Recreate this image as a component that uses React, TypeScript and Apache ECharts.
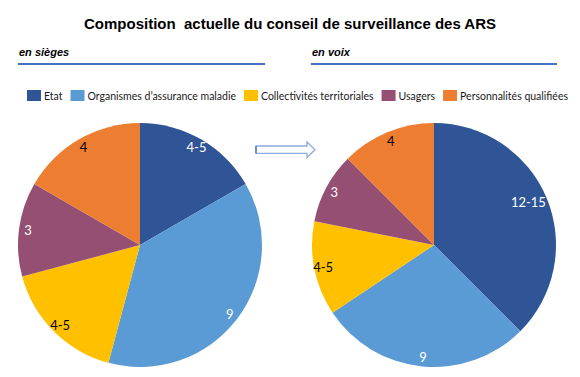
import React, { useEffect, useRef } from 'react';
import * as echarts from 'echarts';

const categories = [
  'Etat',
  'Organismes d’assurance maladie',
  'Collectivités territoriales',
  'Usagers',
  'Personnalités qualifiées',
];
const seatValues = [4, 9, 4, 3, 4];
const seatLabels = ['4-5', '9', '4-5', '3', '4'];
const voteValues = [12, 9, 4, 3, 4];
const voteLabels = ['12-15', '9', '4-5', '3', '4'];
const titleText = 'Composition  actuelle du conseil de surveillance des ARS';
const leftSubtitle = 'en sièges';
const rightSubtitle = 'en voix';

const colors = ['#2F5597', '#5B9BD5', '#FFC000', '#954F72', '#ED7D31'];
const labelColors = ['#ffffff', '#ffffff', '#000000', '#ffffff', '#000000'];

function fillSeries(values: number[], center: number[]) {
  return {
    type: 'pie',
    center,
    radius: [0, 122],
    startAngle: 90,
    clockwise: true,
    silent: true,
    label: { show: false },
    labelLine: { show: false },
    emphasis: { disabled: true },
    data: values.map((v, i) => ({
      name: categories[i],
      value: v,
      itemStyle: { color: colors[i] },
    })),
  };
}

function labelSeries(
  values: number[],
  labels: string[],
  center: number[],
  paddings: number[][]
) {
  return {
    type: 'pie',
    center,
    radius: [98, 122],
    startAngle: 90,
    clockwise: true,
    silent: true,
    z: 5,
    labelLine: { show: false },
    emphasis: { disabled: true },
    data: values.map((v, i) => ({
      name: categories[i],
      value: v,
      itemStyle: { color: 'rgba(0,0,0,0)' },
      label: {
        show: true,
        position: 'inside',
        formatter: labels[i],
        color: labelColors[i],
        fontFamily: 'Lato',
        fontSize: 13,
        overflow: 'none',
        padding: paddings[i],
      },
    })),
  };
}

const noPad = [0, 0, 0, 0];

export default function App() {
  const ref = useRef<HTMLDivElement>(null);
  useEffect(() => {
    if (!ref.current) return;
    const chart = echarts.init(ref.current, undefined, { renderer: 'svg' });
    chart.setOption({
      animation: false,
      backgroundColor: '#ffffff',
      title: {
        text: titleText,
        left: 'center',
        top: 11,
        textStyle: {
          fontFamily: 'Liberation Sans',
          fontWeight: 'bold',
          fontSize: 15,
          color: '#000000',
        },
      },
      legend: {
        data: categories,
        left: 22,
        top: 85,
        itemWidth: 14,
        itemHeight: 11,
        itemGap: 8,
        icon: 'rect',
        textStyle: {
          fontFamily: 'Lato',
          fontSize: 10.5,
          color: '#1a1a1a',
          padding: [0, 0, 0, -2],
        },
        selectedMode: false,
      },
      graphic: [
        {
          type: 'text',
          left: 19,
          top: 46,
          style: {
            text: leftSubtitle,
            font: 'italic bold 11px "Liberation Sans"',
            fill: '#000',
          },
        },
        {
          type: 'text',
          left: 312,
          top: 46,
          style: {
            text: rightSubtitle,
            font: 'italic bold 11px "Liberation Sans"',
            fill: '#000',
          },
        },
        {
          type: 'line',
          shape: { x1: 18, y1: 64, x2: 265, y2: 64 },
          style: { stroke: '#4472C4', lineWidth: 2 },
        },
        {
          type: 'line',
          shape: { x1: 311, y1: 64, x2: 557, y2: 64 },
          style: { stroke: '#4472C4', lineWidth: 2 },
        },
        {
          type: 'polygon',
          shape: {
            points: [
              [256, 146],
              [307, 146],
              [307, 142],
              [315, 149.7],
              [307, 157.5],
              [307, 153.3],
              [256, 153.3],
            ],
          },
          style: { fill: '#ffffff', stroke: '#8FAADC', lineWidth: 1.3 },
        },
        {
          type: 'line',
          shape: { x1: 256, y1: 146, x2: 256, y2: 153.3 },
          style: { stroke: '#4472C4', lineWidth: 1.3 },
        },
      ],
      series: [
        fillSeries(seatValues, [140, 245]),
        fillSeries(voteValues, [434, 245]),
        labelSeries(seatValues, seatLabels, [140, 245], [noPad, noPad, noPad, noPad, noPad]),
        labelSeries(voteValues, voteLabels, [434, 245], [[6, 20, 0, 0], noPad, noPad, noPad, noPad]),
      ],
    });
    return () => chart.dispose();
  }, []);
  return (
    <div
      ref={ref}
      style={{ position: 'fixed', left: 0, top: 0, width: 580, height: 377 }}
    />
  );
}
